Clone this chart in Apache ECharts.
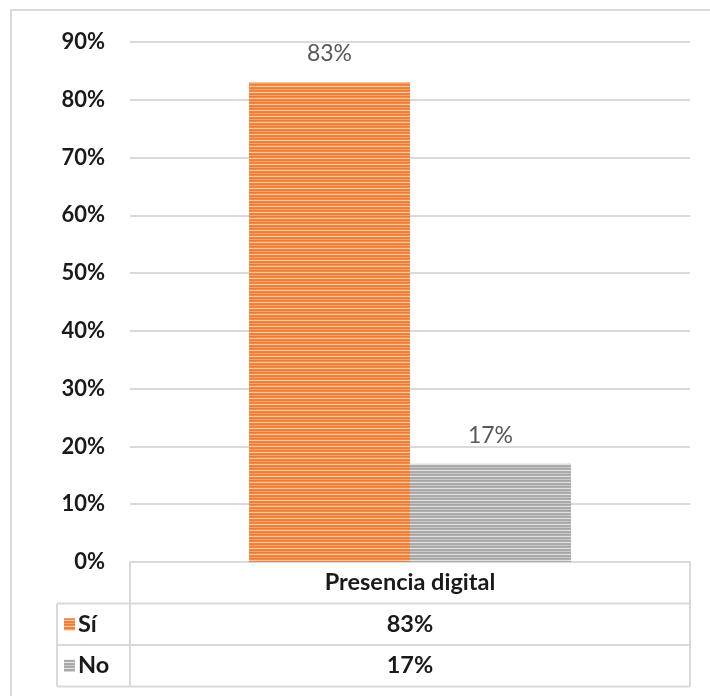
<!DOCTYPE html>
<html>
<head>
<meta charset="utf-8">
<style>
  html, body { margin: 0; padding: 0; background: #fff; }
  #chart { width: 710px; height: 696px; }
</style>
<script src="https://cdn.jsdelivr.net/npm/echarts@6/dist/echarts.min.js"></script>
</head>
<body>
<div id="chart"></div>
<script>
// Chart data
const categories = ['Presencia digital'];
const seriesNames = ['Sí', 'No'];
const siValues = [83];
const noValues = [17];
const yTicks = [0, 10, 20, 30, 40, 50, 60, 70, 80, 90];

// Layout constants
const GRID_LEFT = 130, GRID_RIGHT = 690, GRID_TOP = 42, GRID_BOTTOM = 562;
const ROW_H = 41.5;
const TABLE_LEFT = 57;
const FONT = 'Lato, "Open Sans", sans-serif';
const AXIS_SIZE = 22;
const TABLE_SIZE = 23.5;

// Horizontal striped fill like a "narrow horizontal" pattern
function stripes(colors) {
  const c = document.createElement('canvas');
  c.width = 4; c.height = colors.length;
  const ctx = c.getContext('2d');
  colors.forEach((col, i) => { ctx.fillStyle = col; ctx.fillRect(0, i, 4, 1); });
  return { image: c, repeat: 'repeat' };
}
const orangeFill = stripes(['#ED7D31', '#F08A45', '#F9C9A6', '#EF8440', '#ED7D31', '#F4A46F']);
const grayFill = stripes(['#A5A5A5', '#B0B0B0', '#E2E2E2', '#ABABAB', '#A8A8A8', '#CACACA']);

const chart = echarts.init(document.getElementById('chart'), null, { renderer: 'canvas' });

const lineStyle = { stroke: '#D9D9D9', lineWidth: 2 };
const tableGraphics = [];
function hline(x1, x2, y) {
  tableGraphics.push({ type: 'line', shape: { x1, y1: y, x2, y2: y }, style: lineStyle, silent: true });
}
function vline(x, y1, y2) {
  tableGraphics.push({ type: 'line', shape: { x1: x, y1, x2: x, y2 }, style: lineStyle, silent: true });
}
const rowY = [GRID_BOTTOM, GRID_BOTTOM + ROW_H, GRID_BOTTOM + 2 * ROW_H, GRID_BOTTOM + 3 * ROW_H];
// outer chart border
tableGraphics.push({ type: 'rect', shape: { x: 11, y: 10, width: 720, height: 720 }, style: { fill: 'none', stroke: '#D9D9D9', lineWidth: 2 }, silent: true });
hline(GRID_LEFT, GRID_RIGHT, rowY[0]);
hline(TABLE_LEFT, GRID_RIGHT, rowY[1]);
hline(TABLE_LEFT, GRID_RIGHT, rowY[2]);
hline(TABLE_LEFT, GRID_RIGHT, rowY[3]);
vline(GRID_LEFT, rowY[0], rowY[3]);
vline(GRID_RIGHT, rowY[0], rowY[3]);
vline(TABLE_LEFT, rowY[1], rowY[3]);

const centerX = (GRID_LEFT + GRID_RIGHT) / 2;
const textStyle = (text, x, y, align) => ({
  type: 'text', x, y, silent: true,
  style: { text, font: 'bold ' + TABLE_SIZE + 'px ' + FONT, fill: '#1A1A1A', align: align || 'center', verticalAlign: 'middle' }
});
tableGraphics.push(textStyle(categories[0], centerX, (rowY[0] + rowY[1]) / 2));
const rowsData = [siValues, noValues];
const fills = [orangeFill, grayFill];
seriesNames.forEach((name, i) => {
  const yMid = (rowY[i + 1] + rowY[i + 2]) / 2;
  tableGraphics.push({ type: 'rect', shape: { x: 64, y: yMid - 6, width: 11, height: 12 }, style: { fill: fills[i] }, silent: true });
  tableGraphics.push(textStyle(name, 78, yMid, 'left'));
  tableGraphics.push(textStyle(rowsData[i][0] + '%', centerX, yMid));
});

const labelCfg = { show: true, position: 'top', distance: 17, formatter: '{c}%', fontFamily: FONT, fontSize: 23, color: '#595959' };

chart.setOption({
  animation: false,
  grid: { left: GRID_LEFT, right: 710 - GRID_RIGHT, top: GRID_TOP, bottom: 696 - GRID_BOTTOM, containLabel: false },
  xAxis: {
    type: 'category',
    data: categories,
    axisLine: { show: true, lineStyle: { color: '#D9D9D9', width: 2 } },
    axisTick: { show: false },
    axisLabel: { show: false }
  },
  yAxis: {
    type: 'value',
    min: yTicks[0],
    max: yTicks[yTicks.length - 1],
    interval: 10,
    axisLine: { show: false },
    axisTick: { show: false },
    splitLine: { lineStyle: { color: '#D9D9D9', width: 2 } },
    axisLabel: { formatter: '{value}%', margin: 25, fontFamily: FONT, fontWeight: 'bold', fontSize: AXIS_SIZE, color: '#1A1A1A' }
  },
  series: [
    {
      name: seriesNames[0], type: 'bar', data: siValues,
      barGap: '0%', barCategoryGap: '42.5%',
      itemStyle: { color: orangeFill },
      label: labelCfg
    },
    {
      name: seriesNames[1], type: 'bar', data: noValues,
      barGap: '0%', barCategoryGap: '42.5%',
      itemStyle: { color: grayFill },
      label: labelCfg
    }
  ],
  graphic: tableGraphics
});
</script>
</body>
</html>
